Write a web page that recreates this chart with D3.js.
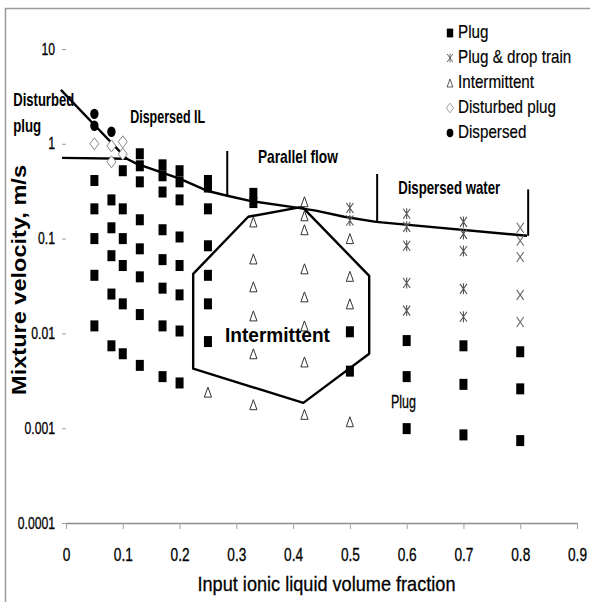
<!DOCTYPE html>
<html>
<head>
<meta charset="utf-8">
<script src="https://cdn.jsdelivr.net/npm/d3@7"></script>
<style>
  body { margin: 0; background: #fff; }
  svg text { font-family: "Liberation Sans", Arial, sans-serif; }
</style>
</head>
<body>
<div id="chart"></div>
<script>
// flow regime data: [input IL volume fraction, mixture velocity m/s]
const plug = [
  [0.05, 0.41], [0.05, 0.206], [0.05, 0.1], [0.05, 0.041], [0.05, 0.012],
  [0.08, 0.256], [0.08, 0.13], [0.08, 0.066], [0.08, 0.026], [0.08, 0.0074],
  [0.1, 0.52], [0.1, 0.206], [0.1, 0.1], [0.1, 0.052], [0.1, 0.0205], [0.1, 0.0061],
  [0.13, 0.785], [0.13, 0.586], [0.13, 0.397], [0.13, 0.158], [0.13, 0.078], [0.13, 0.0395], [0.13, 0.0158], [0.13, 0.0046],
  [0.17, 0.6], [0.17, 0.46], [0.17, 0.31], [0.17, 0.124], [0.17, 0.06], [0.17, 0.03], [0.17, 0.012], [0.17, 0.0035],
  [0.2, 0.52], [0.2, 0.397], [0.2, 0.256], [0.2, 0.104], [0.2, 0.052], [0.2, 0.0255], [0.2, 0.0106], [0.2, 0.003],
  [0.25, 0.41], [0.25, 0.35], [0.25, 0.206], [0.25, 0.084], [0.25, 0.041], [0.25, 0.0205], [0.25, 0.0082],
  [0.33, 0.3], [0.33, 0.24],
  [0.5, 0.0104], [0.5, 0.004],
  [0.6, 0.0084], [0.6, 0.0035], [0.6, 0.00099],
  [0.7, 0.0074], [0.7, 0.0029], [0.7, 0.00085],
  [0.8, 0.0064], [0.8, 0.0026], [0.8, 0.00074]
];

const plugDropTrain = [
  [0.5, 0.21], [0.5, 0.155],
  [0.6, 0.183], [0.6, 0.133], [0.6, 0.084], [0.6, 0.034], [0.6, 0.0174],
  [0.7, 0.15], [0.7, 0.112], [0.7, 0.074], [0.7, 0.0295], [0.7, 0.015]
];
// same regime, drawn as plain crosses in the original
const plugDropTrainX = [
  [0.8, 0.13], [0.8, 0.095], [0.8, 0.064], [0.8, 0.0255], [0.8, 0.0132]
];

const intermittent = [
  [0.25, 0.0024],
  [0.33, 0.15], [0.33, 0.061], [0.33, 0.031], [0.33, 0.0153], [0.33, 0.0061], [0.33, 0.00177],
  [0.42, 0.245], [0.42, 0.174], [0.42, 0.124], [0.42, 0.048], [0.42, 0.0243], [0.42, 0.012], [0.42, 0.005], [0.42, 0.0014],
  [0.5, 0.1], [0.5, 0.04], [0.5, 0.0205], [0.5, 0.00117]
];

const disturbedPlug = [[0.05, 1.0], [0.08, 0.95], [0.1, 1.05], [0.08, 0.645], [0.1, 0.78]];
const dispersed = [[0.05, 2.07], [0.05, 1.55], [0.08, 1.34]];

// regime boundaries
const steepBoundary = [[-0.009, 3.7], [0.107, 0.695]];
const mainBoundary = [
  [-0.007, 0.71], [0.107, 0.695], [0.125, 0.615], [0.2, 0.43], [0.248, 0.32], [0.284, 0.283],
  [0.324, 0.25], [0.4, 0.215], [0.44, 0.197], [0.49, 0.17], [0.546, 0.15], [0.812, 0.107]
];
const verticalBoundaries = [
  [[0.284, 0.283], [0.284, 0.84]],
  [[0.548, 0.15], [0.548, 0.48]],
  [[0.814, 0.107], [0.814, 0.33]]
];
const intermittentRegion = [
  [0.416, 0.216], [0.321, 0.17], [0.224, 0.0425], [0.224, 0.00424],
  [0.418, 0.00185], [0.534, 0.0061], [0.534, 0.0405]
];

// region labels: text, left x, centre y (data units), width px, font size, bold
const regionLabels = [
  ["Disturbed", -0.093, 2.83, 61, 19, true],
  ["plug", -0.093, 1.50, 28, 19, true],
  ["Dispersed IL", 0.113, 1.87, 75, 19, true],
  ["Parallel flow", 0.338, 0.714, 80, 19, true],
  ["Dispersed water", 0.585, 0.333, 102, 19, true],
  ["Intermittent", 0.28, 0.0092, 105, 20, true],
  ["Plug", 0.5724, 0.00185, 25, 19, false]
];

const xTicks = [0, 0.1, 0.2, 0.3, 0.4, 0.5, 0.6, 0.7, 0.8, 0.9];
const xTickLabels = ["0", "0.1", "0.2", "0.3", "0.4", "0.5", "0.6", "0.7", "0.8", "0.9"];
const yTicks = [0.0001, 0.001, 0.01, 0.1, 1, 10];
const yTickLabels = ["0.0001", "0.001", "0.01", "0.1", "1", "10"];

const legendNames = ["Plug", "Plug & drop train", "Intermittent", "Disturbed plug", "Dispersed"];

const width = 590, height = 602;

// squeeze text horizontally (the original uses a narrow font)
function condense(sel, k) {
  sel.each(function() {
    const w = this.getComputedTextLength();
    d3.select(this)
      .attr("textLength", w * k)
      .attr("lengthAdjust", "spacingAndGlyphs");
  });
}

const svg = d3.select("#chart")
  .append("svg")
  .attr("width", width)
  .attr("height", height);

// outer frame
svg.append("rect")
  .attr("x", 5.5).attr("y", 8.5)
  .attr("width", 620).attr("height", 620)
  .attr("fill", "none")
  .attr("stroke", "#9a9a9a")
  .attr("stroke-width", 1.5);

const x = d3.scaleLinear().domain([0, 0.9]).range([66, 577]);
const y = d3.scaleLog().domain([0.0001, 10]).range([523, 49]);

// x axis
const xAxisG = svg.append("g")
  .attr("transform", `translate(0,${y(0.0001)})`)
  .call(d3.axisBottom(x)
    .tickValues(xTicks)
    .tickSize(6)
    .tickPadding(19)
    .tickSizeOuter(0)
    .tickFormat((d, i) => xTickLabels[i]));
xAxisG.select(".domain").attr("stroke", "#8c8c8c").attr("stroke-width", 1.3);
xAxisG.selectAll(".tick line").attr("stroke", "#a0a0a0");
xAxisG.selectAll("text")
  .attr("font-size", 18)
  .attr("fill", "#000")
  .attr("stroke", "#000")
  .attr("stroke-width", 0.3)
  .call(condense, 0.76);

// y axis: tick dashes only
const yAxisG = svg.append("g")
  .attr("transform", `translate(${x(0)},0)`)
  .call(d3.axisLeft(y)
    .tickValues(yTicks)
    .tickSize(4)
    .tickPadding(7)
    .tickFormat((d, i) => yTickLabels[i]));
yAxisG.select(".domain").remove();
yAxisG.selectAll(".tick line").attr("stroke", "#a0a0a0");
yAxisG.selectAll("text")
  .attr("font-size", 16)
  .attr("fill", "#000")
  .attr("stroke", "#000")
  .attr("stroke-width", 0.3)
  .call(condense, 0.76);

// axis titles
svg.append("text")
  .attr("x", (x(0) + x(0.9)) / 2 + 5)
  .attr("y", 585)
  .attr("text-anchor", "middle")
  .attr("dominant-baseline", "middle")
  .attr("font-size", 21)
  .attr("stroke", "#000")
  .attr("stroke-width", 0.3)
  .attr("textLength", 258)
  .attr("lengthAdjust", "spacingAndGlyphs")
  .text("Input ionic liquid volume fraction");

svg.append("text")
  .attr("transform", "translate(20,280) rotate(-90)")
  .attr("text-anchor", "middle")
  .attr("dominant-baseline", "middle")
  .attr("font-weight", "bold")
  .attr("font-size", 21)
  .attr("textLength", 230)
  .attr("lengthAdjust", "spacingAndGlyphs")
  .text("Mixture velocity, m/s");

// boundaries
const line = d3.line().x(d => x(d[0])).y(d => y(d[1]));
const bounds = svg.append("g")
  .attr("fill", "none")
  .attr("stroke", "#000")
  .attr("stroke-width", 2.4)
  .attr("stroke-linejoin", "round");

bounds.append("path").attr("d", line(steepBoundary));
bounds.append("path").attr("d", line(mainBoundary));
bounds.selectAll(".vbound")
  .data(verticalBoundaries)
  .join("path")
  .attr("class", "vbound")
  .attr("stroke-width", 2)
  .attr("d", d => line(d));
bounds.append("path").attr("d", line(intermittentRegion) + "Z");

// marker shapes
const shapes = {
  square: g => g.append("rect").attr("x", -4).attr("y", -5.5).attr("width", 8).attr("height", 11).attr("fill", "#000"),
  star: g => g.append("path").attr("d", "M-3.5,-5L3.5,5M3.5,-5L-3.5,5M0,-5.5L0,5.5").attr("stroke", "#555").attr("stroke-width", 1.1).attr("fill", "none"),
  cross: g => g.append("path").attr("d", "M-3.5,-5L3.5,5M3.5,-5L-3.5,5").attr("stroke", "#666").attr("stroke-width", 1.1).attr("fill", "none"),
  triangle: g => g.append("path").attr("d", "M0,-5L3.6,5L-3.6,5Z").attr("stroke", "#333").attr("stroke-width", 1).attr("fill", "#fff"),
  diamond: g => g.append("path").attr("d", "M0,-6L4.5,0L0,6L-4.5,0Z").attr("stroke", "#888").attr("stroke-width", 1).attr("fill", "#fff"),
  circle: g => g.append("ellipse").attr("rx", 4.2).attr("ry", 5.2).attr("fill", "#000")
};

function drawSeries(data, shape) {
  const g = svg.append("g")
    .selectAll("g")
    .data(data)
    .join("g")
    .attr("transform", d => `translate(${x(d[0])},${y(d[1])})`);
  shapes[shape](g);
}

drawSeries(intermittent, "triangle");
drawSeries(plugDropTrain, "star");
drawSeries(plugDropTrainX, "cross");
drawSeries(disturbedPlug, "diamond");
drawSeries(plug, "square");
drawSeries(dispersed, "circle");

// region labels
svg.append("g")
  .selectAll("text")
  .data(regionLabels)
  .join("text")
  .attr("x", d => x(d[1]))
  .attr("y", d => y(d[2]))
  .attr("dominant-baseline", "middle")
  .attr("font-size", d => d[4])
  .attr("font-weight", d => d[5] ? "bold" : "normal")
  .attr("stroke", d => d[5] ? null : "#000")
  .attr("stroke-width", 0.3)
  .attr("textLength", d => d[3])
  .attr("lengthAdjust", "spacingAndGlyphs")
  .attr("fill", "#000")
  .text(d => d[0]);

// legend
const legendShapes = ["square", "star", "triangle", "diamond", "circle"];
const legend = svg.append("g").attr("transform", "translate(450,33)");
const items = legend.selectAll("g")
  .data(legendNames)
  .join("g")
  .attr("transform", (d, i) => `translate(0,${i * 25})`);
items.each(function(d, i) {
  const g = d3.select(this).append("g").attr("transform", "scale(0.8)");
  shapes[legendShapes[i]](g);
});
items.append("text")
  .attr("x", 8)
  .attr("dominant-baseline", "middle")
  .attr("font-size", 19)
  .attr("stroke", "#000")
  .attr("stroke-width", 0.2)
  .text(d => d)
  .call(condense, 0.8);
</script>
</body>
</html>
